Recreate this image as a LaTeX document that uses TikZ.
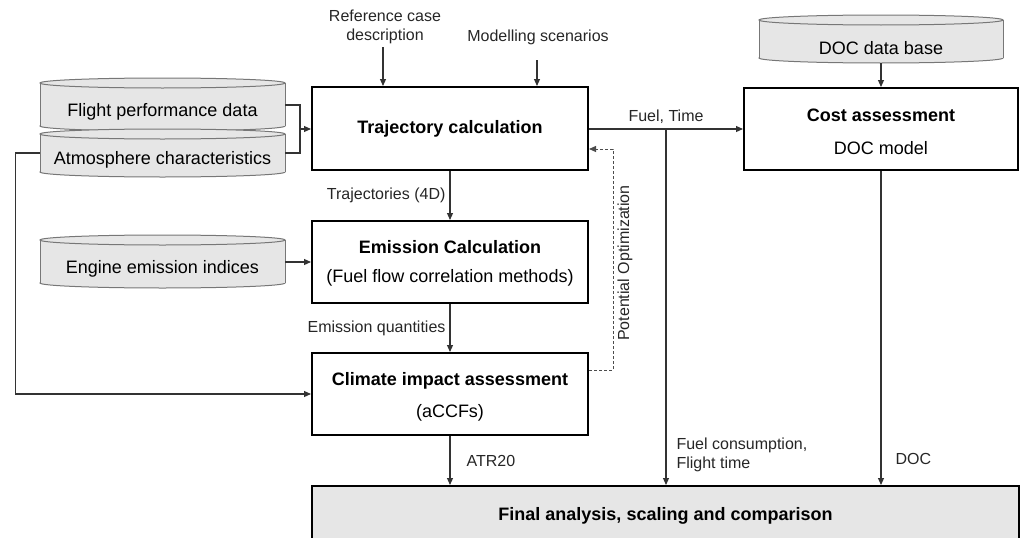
\documentclass[tikz,border=0pt]{standalone}
\usepackage{fontspec}
\setmainfont{Liberation Sans}
\usetikzlibrary{arrows.meta}
\definecolor{dbgray}{HTML}{E6E6E6}
\definecolor{dbedge}{HTML}{777777}
\definecolor{lncol}{HTML}{333333}
\newcommand{\dbcyl}[4]{%
  \draw[dbline, fill=dbgray] ({(#1+#2)/2},#4) ellipse [x radius={(#2-#1)/2}, y radius=5];
  \fill[dbgray] (#1,#3) rectangle (#2,#4);
  \draw[dbline] (#1,#3) -- (#1,#4) (#2,#3) -- (#2,#4);
  \draw[dbline, fill=dbgray] ({(#1+#2)/2},#3) ellipse [x radius={(#2-#1)/2}, y radius=5];
}
\tikzset{
  dbline/.style={draw=dbedge, line width=1pt},
  box/.style={draw, line width=2pt, fill=white, inner sep=0pt, align=center,
    font=\fontsize{18}{22}\selectfont},
  dbtext/.style={inner sep=0pt, minimum width=245pt, minimum height=30pt,
    font=\fontsize{18}{22}\selectfont},
  conn/.style={draw=lncol, line width=1.1pt},
  arr/.style={conn, -{Triangle[length=7pt,width=6pt]}},
  dasharr/.style={draw=black!70, line width=1pt, dash pattern=on 3pt off 2pt,
    -{Triangle[length=7pt,width=6pt]}},
  lbl/.style={font=\fontsize{16}{19}\selectfont, text=black!85},
}
\begin{document}
\begin{tikzpicture}[x=1pt, y=-1pt]
\useasboundingbox (0,0) rectangle (1021,538);

% data bases
\dbcyl{40}{285}{83}{126}
\dbcyl{40}{285}{134}{172}
\dbcyl{40}{285}{240}{283}
\dbcyl{759}{1003}{20}{58}

\node[dbtext] (flight) at (162.5,112) {Flight performance data};
\node[dbtext] (atmo) at (162.5,160) {Atmosphere characteristics};
\node[dbtext] (engine) at (162.5,269) {Engine emission indices};
\node[dbtext, minimum width=244pt] (docdb) at (881,48) {DOC data base};

% process boxes
\node[box, minimum width=276pt, minimum height=83pt] (traj) at (450,128.5)
  {\bfseries Trajectory calculation};
\node[box, minimum width=276pt, minimum height=82pt] (emis) at (450,262)
  {\rule{0pt}{16pt}\bfseries Emission Calculation\\[7pt](Fuel flow correlation methods)};
\node[box, minimum width=276pt, minimum height=82pt] (clim) at (450,394)
  {\rule{0pt}{19pt}\bfseries Climate impact assessment\\[10pt](aCCFs)};
\node[box, minimum width=274pt, minimum height=82pt] (cost) at (881,129)
  {\rule{0pt}{18pt}\bfseries Cost assessment\\[11pt]DOC model};
\node[box, fill=dbgray, minimum width=707pt, minimum height=59pt] (final) at (665.5,515.5)
  {\bfseries Final analysis, scaling and comparison};

% inputs on top
\node[lbl, align=center] (ref) at (385,27) {Reference case\\description};
\node[lbl] (mod) at (538,37) {Modelling scenarios};
\coordinate (modtop) at (537,60);
\draw[arr] (ref.south -| 383,0) -- (383,0 |- traj.north);
\draw[arr] (modtop) -- (modtop |- traj.north);

% data base inputs
\coordinate (join) at (300,129);
\draw[conn] ([yshift=7pt]flight.east) -| (join) |- ([yshift=7pt]atmo.east);
\draw[arr] (join) -- (join -| traj.west);
\draw[arr] ([yshift=7pt]atmo.west) -- ++(-24,0) |- (clim.west);
\draw[arr] (engine.east |- emis.west) -- (emis.west);
\draw[arr] (docdb.south) -- (cost.north);

% main chain
\draw[arr] (traj.south) -- node[lbl, left, inner sep=4pt] {Trajectories (4D)} (emis.north);
\draw[arr] (emis.south) -- node[lbl, left, inner sep=4pt] {Emission quantities} (clim.north);
\draw[arr] (clim.south) -- node[lbl, right, inner sep=4pt, xshift=12pt] {ATR20} (clim.south |- final.north);

% fuel, time
\coordinate (branch) at (666,129);
\draw[arr] (traj.east |- cost.west) -- (cost.west);
\node[lbl, above, inner sep=5pt] (fueltime) at (branch) {Fuel, Time};
\draw[arr] (branch) -- node[lbl, pos=0.916, right, align=left, inner sep=0pt, xshift=10pt]
  {Fuel consumption,\\Flight time} (branch |- final.north);
\draw[arr] (cost.south) -- node[lbl, pos=0.918, right, inner sep=0pt, xshift=14pt] {DOC}
  (cost.south |- final.north);

% optimisation feedback
\draw[dasharr] ([yshift=24pt]clim.east) -- ++(24,0) |- ([yshift=-20.5pt]traj.east);
\node[lbl, rotate=90] (opt) at (625,263) {Potential Optimization};
\end{tikzpicture}
\end{document}
